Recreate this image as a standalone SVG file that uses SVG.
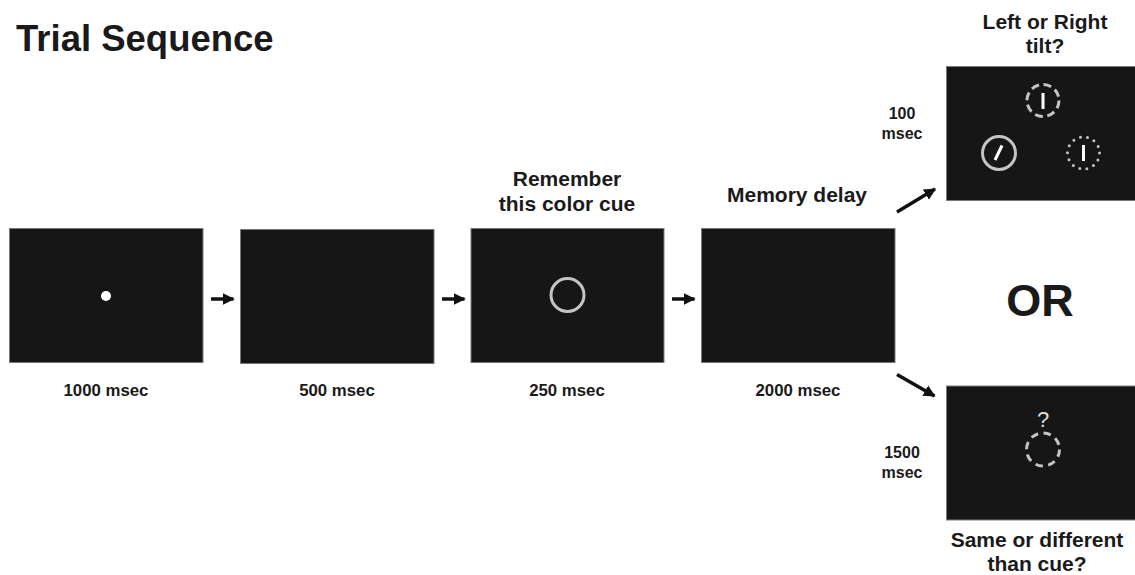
<svg xmlns="http://www.w3.org/2000/svg" width="1135" height="575" viewBox="0 0 1135 575">
<style>
.panel{fill:#161616;stroke:#7a7a7a;stroke-width:1}
.lbl{font-family:"Liberation Sans",Arial,sans-serif;font-weight:bold;fill:#1a1a1a;text-anchor:middle}
.t16{font-size:16px}
.t17{font-size:16.8px}
.t21{font-size:21px}
.ring{fill:none;stroke:#c4c4c4;stroke-width:3}
.bar{stroke:#ffffff;stroke-width:3}
.conn{stroke:#111;stroke-width:3.5;fill:none}
</style>
<defs>
<marker id="ah" viewBox="0 0 10 10" refX="9" refY="5" markerWidth="3.4" markerHeight="3.8" orient="auto" markerUnits="strokeWidth">
<path d="M0,0 L10,5 L0,10 z" fill="#111"/>
</marker>
</defs>
<text class="lbl" x="16" y="51" style="font-size:36.5px;text-anchor:start">Trial Sequence</text>

<g id="screen1">
<rect class="panel" x="9.5" y="228.5" width="193.5" height="134"/>
<circle cx="106" cy="296" r="5" fill="#fff"/>
<text class="lbl t17" x="106" y="396">1000 msec</text>
</g>
<g id="screen2">
<rect class="panel" x="240.5" y="229.5" width="193.5" height="134"/>
<text class="lbl t17" x="337" y="396">500 msec</text>
</g>
<g id="screen3">
<rect class="panel" x="471" y="228.5" width="193" height="134"/>
<circle class="ring" cx="567.5" cy="295" r="16.5"/>
<text class="lbl t21" x="567" y="186">Remember</text>
<text class="lbl t21" x="567" y="211">this color cue</text>
<text class="lbl t17" x="567" y="396">250 msec</text>
</g>
<g id="screen4">
<rect class="panel" x="701.5" y="228.5" width="193.5" height="134"/>
<text class="lbl t21" x="797" y="202">Memory delay</text>
<text class="lbl t17" x="798" y="396">2000 msec</text>
</g>
<g id="screen5">
<rect class="panel" x="946.5" y="66.5" width="194" height="134"/>
<circle class="ring" cx="1043" cy="100.5" r="16" stroke-dasharray="8 4.57"/>
<line class="bar" x1="1043" y1="93" x2="1043" y2="109"/>
<circle class="ring" cx="999" cy="153" r="16.5"/>
<line class="bar" x1="1002" y1="145.5" x2="995" y2="160"/>
<circle class="ring" cx="1083.5" cy="153" r="16" stroke-dasharray="0 7.18" stroke-linecap="round"/>
<line class="bar" x1="1083.5" y1="145" x2="1083.5" y2="161"/>
<text class="lbl t21" x="1045" y="29">Left or Right</text>
<text class="lbl t21" x="1045" y="53">tilt?</text>
<text class="lbl t16" x="902" y="119">100</text>
<text class="lbl t16" x="902" y="139">msec</text>
</g>
<g id="or">
<text class="lbl" x="1040" y="316" style="font-size:45px">OR</text>
</g>
<g id="screen6">
<rect class="panel" x="946.5" y="386" width="194" height="134"/>
<text x="1043" y="427" style="font-family:'Liberation Sans',Arial,sans-serif;font-size:22px;fill:#dddddd;text-anchor:middle">?</text>
<circle class="ring" cx="1043" cy="449.5" r="16.5" stroke-dasharray="7.5 5.46"/>
<text class="lbl t21" x="1037" y="547">Same or different</text>
<text class="lbl t21" x="1037" y="571">than cue?</text>
<text class="lbl t16" x="902" y="458">1500</text>
<text class="lbl t16" x="902" y="478">msec</text>
</g>

<g id="connectors">
<line class="conn" x1="211" y1="299" x2="233.5" y2="299" marker-end="url(#ah)"/>
<line class="conn" x1="442" y1="299" x2="464.5" y2="299" marker-end="url(#ah)"/>
<line class="conn" x1="672" y1="299" x2="694.5" y2="299" marker-end="url(#ah)"/>
<line class="conn" x1="897" y1="212" x2="935" y2="189" marker-end="url(#ah)"/>
<line class="conn" x1="897" y1="374.5" x2="934.5" y2="396" marker-end="url(#ah)"/>
</g>
</svg>
